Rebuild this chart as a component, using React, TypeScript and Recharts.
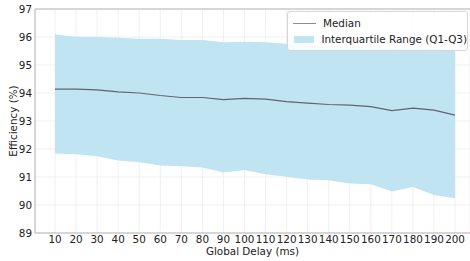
import { ComposedChart, Area, Line, XAxis, YAxis, CartesianGrid, Legend, ReferenceLine } from 'recharts';

const delays = [10, 20, 30, 40, 50, 60, 70, 80, 90, 100, 110, 120, 130, 140, 150, 160, 170, 180, 190, 200];
const median = [94.14, 94.14, 94.11, 94.04, 94.0, 93.91, 93.84, 93.84, 93.76, 93.81, 93.78, 93.69, 93.64, 93.59, 93.57, 93.51, 93.37, 93.46, 93.39, 93.21];
const q1 = [91.84, 91.81, 91.74, 91.59, 91.53, 91.41, 91.38, 91.34, 91.16, 91.25, 91.1, 91.01, 90.91, 90.88, 90.77, 90.74, 90.48, 90.64, 90.36, 90.24];
const q3 = [96.09, 96.01, 96.01, 95.97, 95.94, 95.94, 95.89, 95.89, 95.81, 95.83, 95.81, 95.76, 95.72, 95.69, 95.66, 95.63, 95.58, 95.6, 95.58, 95.53];
const yTicks = [89, 90, 91, 92, 93, 94, 95, 96, 97];

const data = delays.map((d, i) => ({ delay: d, median: median[i], iqr: [q1[i], q3[i]] }));

const FONT = "'DejaVu Sans', sans-serif";
const FS = 10.4;
const BAND = '#c1e4f2';
const LINE = '#5c6670';

const LegendBox = () => (
  <div style={{
    background: 'rgba(255,255,255,0.85)',
    border: '1px solid #d6d6d6',
    borderRadius: '3px',
    fontFamily: FONT,
    fontSize: `${FS}px`,
    color: '#222',
    padding: '3px 0 3px 5px',
    lineHeight: '16px',
    whiteSpace: 'nowrap',
  }}>
    <div style={{ display: 'flex', alignItems: 'center' }}>
      <span style={{ width: '23px', height: 0, borderTop: '1.3px solid #8a8f94', marginRight: '7px' }} />
      <span>Median</span>
    </div>
    <div style={{ display: 'flex', alignItems: 'center' }}>
      <span style={{ width: '22px', height: '7px', background: BAND, marginRight: '7px', marginLeft: '1px' }} />
      <span>Interquartile Range (Q1-Q3)</span>
    </div>
  </div>
);

const App = () => {
  return (
    <div style={{ position: 'absolute', left: 0, top: 0, width: 470, height: 261, background: '#fff' }}>
      <ComposedChart width={470} height={261} data={data} margin={{ top: 9, right: 0, left: 0, bottom: 0 }}>
        <CartesianGrid stroke="#ececec" strokeWidth={0.8} />
        <XAxis
          dataKey="delay"
          type="number"
          domain={[0.5, 207.1]}
          ticks={delays}
          allowDataOverflow
          interval={0}
          height={28}
          tickLine={false}
          tickSize={0}
          tickMargin={3}
          stroke="#b5b5b5"
          tick={{ fill: '#222', fontSize: FS, fontFamily: FONT }}
          label={{ value: 'Global Delay (ms)', position: 'insideBottom', offset: 6, fill: '#222', fontSize: FS, fontFamily: FONT }}
        />
        <YAxis
          type="number"
          domain={[89, 97]}
          ticks={yTicks}
          width={35}
          tickLine={false}
          tickSize={0}
          tickMargin={3}
          stroke="#b5b5b5"
          tick={{ fill: '#222', fontSize: FS, fontFamily: FONT }}
          label={{
            content: ({ viewBox }: any) => {
              const x = viewBox.x + 13;
              const y = viewBox.y + viewBox.height / 2;
              return (
                <text x={x} y={y} transform={`rotate(-90 ${x} ${y})`} textAnchor="middle" dominantBaseline="central"
                  fill="#222" fontSize={FS} fontFamily={FONT}>
                  Efficiency (%)
                </text>
              );
            },
          }}
        />
        <ReferenceLine y={97} stroke="#b5b5b5" />
        <Area
          type="linear"
          dataKey="iqr"
          name="Interquartile Range (Q1-Q3)"
          fill={BAND}
          fillOpacity={1}
          stroke="none"
          isAnimationActive={false}
          dot={false}
          activeDot={false}
        />
        <Line
          type="linear"
          dataKey="median"
          name="Median"
          stroke={LINE}
          strokeWidth={1.2}
          dot={false}
          activeDot={false}
          isAnimationActive={false}
        />
        <Legend
          layout="vertical"
          align="center"
          verticalAlign="middle"
          content={() => <LegendBox />}
          wrapperStyle={{ position: 'absolute', top: 11, left: 287, width: 181, height: 'auto' }}
        />
      </ComposedChart>
    </div>
  );
};

export default App;
